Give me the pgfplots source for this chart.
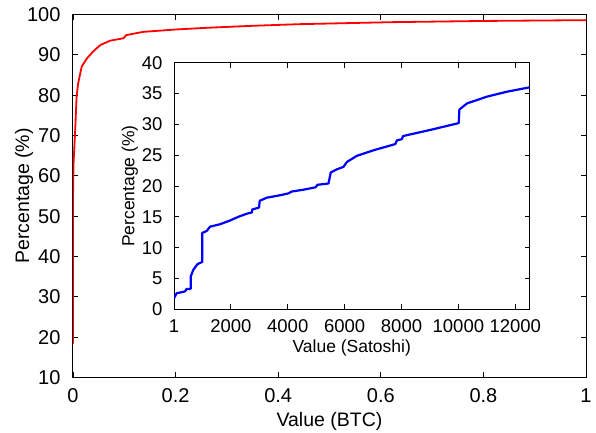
\documentclass[border=0pt]{standalone}
\usepackage{pgfplots}
\pgfplotsset{compat=1.18}
\usepackage{fontspec}
\setmainfont{Liberation Sans}
\begin{document}
\begin{tikzpicture}
\begin{axis}[
  name=main,
  at={(0,0)}, anchor=origin,
  scale only axis,
  width=513bp, height=363bp,
  xmin=0, xmax=1, ymin=10, ymax=100,
  xtick={0,0.2,0.4,0.6,0.8,1},
  xticklabels={0,0.2,0.4,0.6,0.8,1},
  ytick={10,20,...,100},
  tick align=inside,
  tick pos=both,
  major tick length=5bp,
  tick style={black, line width=0.8bp},
  axis line style={black, line width=1bp},
  scaled ticks=false,
  /pgf/number format/assume math mode=true,
  /pgf/number format/1000 sep={},
  tick label style={font=\fontsize{20bp}{22bp}\selectfont},
  label style={font=\fontsize{19.5bp}{21bp}\selectfont},
  xlabel={Value (BTC)},
  ylabel={Percentage (\%)},
  xlabel style={yshift=-2bp},
  ylabel style={yshift=-13bp},
  xticklabel style={yshift=-8bp},
  yticklabel style={xshift=-9bp},
]
\addplot[red, line width=1.8bp, line join=round] coordinates {
(0,18.4) (0,54) (0.001,63) (0.004,70.5) (0.007,79.6) (0.010,82.9)
(0.017,87.1) (0.027,89.1) (0.039,90.8) (0.053,92.4) (0.072,93.5)
(0.098,94.1) (0.104,94.9) (0.137,95.7) (0.202,96.3) (0.26,96.7)
(0.35,97.2) (0.44,97.6) (0.62,98.1) (0.80,98.4) (1.0,98.6)
};
\end{axis}
\begin{axis}[
  at={(101bp,68.2bp)}, anchor=origin,
  scale only axis,
  width=355.5bp, height=246.6bp,
  xmin=1, xmax=12500, ymin=0, ymax=40,
  xtick={1,2000,4000,6000,8000,10000,12000},
  xticklabels={1,2000,4000,6000,8000,10000,12000},
  ytick={0,5,...,40},
  tick align=inside,
  tick pos=both,
  major tick length=5bp,
  tick style={black, line width=0.8bp},
  axis line style={black, line width=1bp},
  axis background/.style={fill=white},
  scaled ticks=false,
  /pgf/number format/assume math mode=true,
  /pgf/number format/1000 sep={},
  tick label style={font=\fontsize{18.5bp}{20bp}\selectfont},
  label style={font=\fontsize{17.5bp}{19bp}\selectfont},
  xlabel={Value (Satoshi)},
  ylabel={Percentage (\%)},
  xlabel style={yshift=0bp},
  ylabel style={yshift=-3bp},
  xticklabel style={yshift=-7bp},
  yticklabel style={xshift=-8bp},
]
\addplot[blue, line width=2.2bp, line join=round] coordinates {
(1,1.8) (94,2.6) (387,2.9) (446,3.3) (587,3.3) (587,5.3) (680,6.4)
(821,7.3) (997,7.7) (997,12.4) (1150,12.7) (1267,13.4) (1619,13.8)
(1971,14.4) (2264,15.0) (2557,15.5) (2733,15.7) (2757,16.2) (2991,16.5)
(3015,17.6) (3261,18.1) (3730,18.5) (4023,18.8) (4140,19.1) (4551,19.4)
(4985,19.8) (5044,20.2) (5431,20.4) (5513,22.2) (5724,22.7) (5959,23.1)
(6080,23.9) (6432,24.9) (7018,25.8) (7781,26.8) (7840,27.4) (8016,27.6)
(8051,28.1) (9014,29.1) (10011,30.2) (10035,32.4) (10305,33.4)
(11009,34.5) (11713,35.3) (12500,36.0)
};
\end{axis}
\pgfresetboundingbox
\path[use as bounding box] (main.origin) ++(-73bp,-55.5bp) rectangle ++(596bp,433bp);
\end{tikzpicture}
\end{document}
